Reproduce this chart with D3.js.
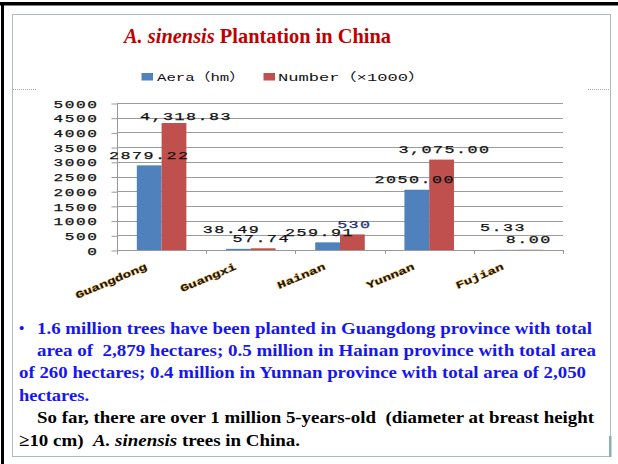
<!DOCTYPE html>
<html>
<head>
<meta charset="utf-8">
<script src="https://cdn.jsdelivr.net/npm/d3@7"></script>
<style>
  body { margin: 0; background: #fff; }
  svg { display: block; }
</style>
</head>
<body>
<div id="chart"></div>
<script>
// data
var categories = ['Guangdong', 'Guangxi', 'Hainan', 'Yunnan', 'Fujian']
var areaValues = [2879.22, 38.49, 259.91, 2050.0, 5.33]
var numberValues = [4318.83, 57.74, 530, 3075.0, 8.0]
var areaLabels = ['2879.22', '38.49', '259.91', '2050.00', '5.33']
var numberLabels = ['4,318.83', '57.74', '530', '3,075.00', '8.00']
var seriesNames = ['Aera（hm）', 'Number（×1000）']
var yTicks = [0, 500, 1000, 1500, 2000, 2500, 3000, 3500, 4000, 4500, 5000]

var width = 618
var height = 464

// plot box
var plot = { left: 117, right: 563, top: 103, bottom: 250 }

var svg = d3
  .select('#chart')
  .append('svg')
  .attr('width', width)
  .attr('height', height)

// slide frame
svg.append('rect')
  .attr('x', 12.5).attr('y', 14.5)
  .attr('width', 598).attr('height', 442)
  .attr('fill', 'none')
  .attr('stroke', '#a9bfbf')
svg.append('rect').attr('x', 609).attr('y', 436).attr('width', 2.5).attr('height', 21).attr('fill', '#8fadad')
svg.append('rect').attr('x', 0).attr('y', 2).attr('width', width).attr('height', 3.5).attr('fill', '#000')
svg.append('rect').attr('x', 1).attr('y', 2).attr('width', 3).attr('height', height).attr('fill', '#000')

// little dotted marks either side of the chart
svg.append('line').attr('x1', 13).attr('x2', 36).attr('y1', 89.5).attr('y2', 89.5)
  .attr('stroke', '#aaa').attr('stroke-dasharray', '1,1')
svg.append('line').attr('x1', 588).attr('x2', 610).attr('y1', 89.5).attr('y2', 89.5)
  .attr('stroke', '#aaa').attr('stroke-dasharray', '1,1')

// count half-width cells so wide glyphs can be stretched like the original
function cells(s) {
  var n = 0
  for (var ch of s) n += ch.charCodeAt(0) > 0x2000 ? 2 : 1
  return n
}
function stretch(sel, cell) {
  sel.each(function() {
    var t = d3.select(this)
    t.attr('textLength', cells(t.text()) * cell).attr('lengthAdjust', 'spacingAndGlyphs')
  })
}

var mono = "'Liberation Mono', 'Noto Sans CJK SC', monospace"

// title
var title = svg.append('text')
  .attr('x', 124)
  .attr('y', 43)
  .attr('font-family', "'Liberation Serif', serif")
  .attr('font-size', '22px')
  .attr('font-weight', 'bold')
  .attr('fill', '#c00000')
  .attr('textLength', 267)
  .attr('lengthAdjust', 'spacingAndGlyphs')
title.append('tspan').attr('font-style', 'italic').text('A. sinensis')
title.append('tspan').text(' Plantation in China')

// scales
var xPositionScale = d3.scaleBand()
  .domain(categories)
  .range([plot.left, plot.right])
var xSeriesScale = d3.scaleBand()
  .domain(['area', 'number'])
  .range([0, xPositionScale.bandwidth()])
  .paddingOuter(0.8)
var yPositionScale = d3.scaleLinear()
  .domain([0, 5000])
  .range([plot.bottom, plot.top])

var colors = { area: '#4f81bd', number: '#c0504d' }

// legend
var legendX = [141.5, 263.5]
var legendTextX = [157, 278]
var legendW = [88, 147]
seriesNames.forEach(function(name, i) {
  svg.append('rect')
    .attr('x', legendX[i]).attr('y', 73)
    .attr('width', 11.5).attr('height', 7.5)
    .attr('fill', i === 0 ? colors.area : colors.number)
  svg.append('text')
    .attr('x', legendTextX[i]).attr('y', 80.5)
    .attr('font-family', mono)
    .attr('font-size', '11.5px')
    .attr('fill', '#111')
    .attr('textLength', legendW[i])
    .attr('lengthAdjust', 'spacingAndGlyphs')
    .text(name)
})

// gridlines
svg.append('g')
  .selectAll('line')
  .data(yTicks.slice(1))
  .enter()
  .append('line')
  .attr('x1', plot.left).attr('x2', plot.right)
  .attr('y1', d => Math.round(yPositionScale(d)) + 0.5)
  .attr('y2', d => Math.round(yPositionScale(d)) + 0.5)
  .attr('stroke', '#9c9c9c')

// y axis
var yAxis = d3.axisLeft(yPositionScale)
  .tickValues(yTicks)
  .tickFormat(d3.format('d'))
  .tickSize(6)
  .tickSizeOuter(0)
var yG = svg.append('g')
  .attr('class', 'axis y-axis')
  .attr('transform', 'translate(' + (plot.left + 0.5) + ',0.5)')
  .call(yAxis)
yG.select('.domain').attr('stroke', '#999').attr('d', 'M0,' + plot.top + 'V' + (plot.bottom + 4))
yG.selectAll('.tick line').attr('stroke', '#999')
yG.selectAll('.tick text')
  .attr('x', -19)
  .attr('dy', '0.36em')
  .attr('font-family', mono)
  .attr('font-size', '10px')
  .attr('letter-spacing', '1px')
  .attr('fill', '#111')
  .attr('stroke', '#111')
  .attr('stroke-width', 0.25)
  .call(stretch, 11.25)

// x axis (ticks between categories)
svg.append('line')
  .attr('x1', plot.left).attr('x2', plot.right)
  .attr('y1', plot.bottom + 0.5).attr('y2', plot.bottom + 0.5)
  .attr('stroke', '#999')
svg.append('g')
  .selectAll('line')
  .data(categories)
  .enter()
  .append('line')
  .attr('x1', d => Math.round(xPositionScale(d) + xPositionScale.bandwidth()) + 0.5)
  .attr('x2', d => Math.round(xPositionScale(d) + xPositionScale.bandwidth()) + 0.5)
  .attr('y1', plot.bottom)
  .attr('y2', plot.bottom + 4)
  .attr('stroke', '#999')

// category labels
svg.append('g')
  .selectAll('text')
  .data(categories)
  .enter()
  .append('text')
  .attr('transform', function(d) {
    var cx = xPositionScale(d) + xPositionScale.bandwidth() / 2 - 14
    return 'translate(' + cx + ',' + (plot.bottom + 19) + ') rotate(-23)'
  })
  .attr('text-anchor', 'end')
  .attr('font-family', mono)
  .attr('font-size', '10px')
  .attr('font-weight', 'bold')
  .attr('fill', '#151515')
  .attr('stroke', '#eab452')
  .attr('stroke-width', 0.8)
  .attr('paint-order', 'stroke')
  .text(d => d)
  .call(stretch, 8.5)

// bars
var rows = categories.map(function(c, i) {
  return [
    { cat: c, key: 'area', value: areaValues[i], label: areaLabels[i], i: i },
    { cat: c, key: 'number', value: numberValues[i], label: numberLabels[i], i: i }
  ]
})

// label nudges so overlapping labels sit as in the original
var nudge = {
  area: [[0, 0], [-7, -9], [-8, 0], [-2, 0], [-3, -12]],
  number: [[12, 3], [-2, 0], [2, 0], [3, 0], [-2, 0]]
}

var groups = svg.append('g')
  .selectAll('g')
  .data(rows)
  .enter()
  .append('g')
  .attr('transform', d => 'translate(' + xPositionScale(d[0].cat) + ',0)')

groups.selectAll('rect')
  .data(d => d)
  .enter()
  .append('rect')
  .attr('x', d => xSeriesScale(d.key))
  .attr('y', d => yPositionScale(d.value))
  .attr('width', xSeriesScale.bandwidth())
  .attr('height', d => plot.bottom - yPositionScale(d.value))
  .attr('fill', d => colors[d.key])

groups.selectAll('text')
  .data(d => d)
  .enter()
  .append('text')
  .attr('x', d => xSeriesScale(d.key) + xSeriesScale.bandwidth() / 2 + nudge[d.key][d.i][0])
  .attr('y', d => yPositionScale(d.value) - 11 + 4.5 + nudge[d.key][d.i][1])
  .attr('text-anchor', 'middle')
  .attr('font-family', mono)
  .attr('font-size', '11.5px')
  .attr('letter-spacing', '1px')
  .attr('fill', d => (d.label === '530' ? '#1e2f78' : '#111'))
  .attr('stroke', d => (d.label === '530' ? '#1e2f78' : '#111'))
  .attr('stroke-width', 0.25)
  .text(d => d.label)
  .call(stretch, 11.5)

// notes under the chart
var blue = '#1616f0'
var notes = [
  { x: 37, y: 334, w: 555, fill: blue, parts: [['1.6 million trees have been planted in Guangdong province with total']] },
  { x: 37, y: 356, w: 559, fill: blue, parts: [['area of  2,879 hectares; 0.5 million in Hainan province with total area']] },
  { x: 19, y: 378, w: 567, fill: blue, parts: [['of 260 hectares; 0.4 million in Yunnan province with total area of 2,050']] },
  { x: 19, y: 400.5, w: 70, fill: blue, parts: [['hectares.']] },
  { x: 37, y: 423, w: 557, fill: '#000', parts: [['So far, there are over 1 million 5-years-old  (diameter at breast height']] },
  { x: 19, y: 446, w: 281, fill: '#000', parts: [['≥10 cm)  '], ['A. sinensis', 'italic'], [' trees in China.']] }
]

svg.append('text')
  .attr('x', 19)
  .attr('y', 333)
  .attr('font-family', "'Liberation Serif', serif")
  .attr('font-size', '15px')
  .attr('font-weight', 'bold')
  .attr('fill', blue)
  .text('•')

notes.forEach(function(n) {
  var t = svg.append('text')
    .attr('x', n.x)
    .attr('y', n.y)
    .attr('font-family', "'Liberation Serif', serif")
    .attr('font-size', '17.5px')
    .attr('font-weight', 'bold')
    .attr('fill', n.fill)
    .attr('textLength', n.w)
    .attr('lengthAdjust', 'spacingAndGlyphs')
    .style('white-space', 'pre')
  n.parts.forEach(function(p) {
    t.append('tspan').attr('font-style', p[1] || null).text(p[0])
  })
})
</script>
</body>
</html>
